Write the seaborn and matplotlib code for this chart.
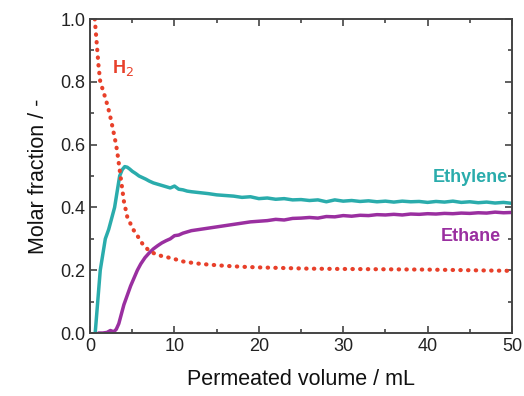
import matplotlib
matplotlib.use("Agg")
import matplotlib.pyplot as plt
import seaborn as sns
from matplotlib.ticker import MultipleLocator

# Data
ethylene_x = [0.6, 0.9, 1.2, 1.5, 1.8, 2.2, 2.6, 2.9, 3.2, 3.5, 3.8, 4.1, 4.4, 4.7, 5.0,
              5.4, 5.8, 6.2, 6.6, 7.0, 7.5, 8.0, 8.5, 9.0, 9.5, 10.0, 10.5, 11.0, 11.5, 12.0,
              13, 14, 15, 16, 17, 18, 19, 20, 21, 22, 23, 24, 25, 26, 27, 28, 29, 30,
              31, 32, 33, 34, 35, 36, 37, 38, 39, 40, 41, 42, 43, 44, 45, 46, 47, 48, 49, 50]
ethylene_y = [0.0, 0.10, 0.20, 0.25, 0.30, 0.33, 0.37, 0.40, 0.45, 0.50, 0.52, 0.53, 0.528, 0.522, 0.515,
              0.508, 0.50, 0.495, 0.49, 0.484, 0.478, 0.474, 0.47, 0.466, 0.462, 0.468, 0.458, 0.456, 0.452, 0.45,
              0.447, 0.444, 0.44, 0.438, 0.436, 0.432, 0.434, 0.428, 0.43, 0.426, 0.428, 0.424, 0.425, 0.422, 0.424, 0.418, 0.424, 0.42,
              0.422, 0.419, 0.421, 0.418, 0.42, 0.417, 0.42, 0.418, 0.419, 0.416, 0.419, 0.417, 0.42, 0.416, 0.418, 0.415, 0.417, 0.414, 0.416, 0.413]

ethane_x = [1.0, 1.5, 2.0, 2.4, 2.8, 3.1, 3.4, 3.7, 4.0, 4.4, 4.8, 5.2, 5.6, 6.0, 6.5, 7.0, 7.5,
            8.0, 8.5, 9.0, 9.5, 10.0, 10.5, 11.0, 11.5, 12.0,
            13, 14, 15, 16, 17, 18, 19, 20, 21, 22, 23, 24, 25, 26, 27, 28, 29, 30,
            31, 32, 33, 34, 35, 36, 37, 38, 39, 40, 41, 42, 43, 44, 45, 46, 47, 48, 49, 50]
ethane_y = [0.0, 0.0, 0.002, 0.008, 0.004, 0.012, 0.03, 0.06, 0.09, 0.12, 0.15, 0.175, 0.20, 0.22, 0.24, 0.255, 0.268,
            0.278, 0.287, 0.294, 0.30, 0.31, 0.312, 0.318, 0.322, 0.326,
            0.33, 0.334, 0.338, 0.342, 0.346, 0.35, 0.354, 0.356, 0.358, 0.362, 0.36, 0.365, 0.366, 0.368, 0.366, 0.371, 0.37, 0.374,
            0.372, 0.375, 0.374, 0.377, 0.376, 0.378, 0.376, 0.379, 0.378, 0.38, 0.379, 0.381, 0.38, 0.382, 0.381, 0.383, 0.382, 0.385, 0.383, 0.384]

h2_x = [0.55, 0.7, 0.85, 1.0, 1.2, 1.5, 1.9, 2.3, 2.7, 3.0, 3.2, 3.45, 3.7, 4.0, 4.4, 5.1, 5.6,
        6.3, 7.0, 7.7, 8.5, 9.7, 11, 12.5, 14, 16, 18, 20, 23, 26, 30, 35, 40, 45, 50]
h2_y = [1.0, 0.95, 0.9, 0.85, 0.8, 0.775, 0.74, 0.70, 0.65, 0.61, 0.58, 0.53, 0.48, 0.42, 0.37, 0.33, 0.31,
        0.28, 0.262, 0.252, 0.245, 0.238, 0.228, 0.222, 0.218, 0.214, 0.211, 0.209, 0.207, 0.205, 0.204, 0.203, 0.202, 0.2, 0.198]

teal = "#2aacac"
purple = "#9a2fa0"
red = "#e8402a"

sns.set_style("ticks")
plt.rcParams['font.family'] = ['Liberation Sans', 'DejaVu Sans']

fig = plt.figure(figsize=(5.24, 3.96), dpi=100)
ax = fig.add_axes([0.172, 0.159, 0.805, 0.793])

sns.lineplot(x=ethylene_x, y=ethylene_y, ax=ax, color=teal, linewidth=2.5,
             estimator=None, sort=False)
sns.lineplot(x=ethane_x, y=ethane_y, ax=ax, color=purple, linewidth=2.5,
             estimator=None, sort=False)
sns.lineplot(x=h2_x, y=h2_y, ax=ax, color=red, linewidth=3.0,
             estimator=None, sort=False, linestyle=(0, (0.1, 1.75)),
             dash_capstyle='round')

ax.set_xlim(0, 50)
ax.set_ylim(0, 1.0)
ax.xaxis.set_major_locator(MultipleLocator(10))
ax.xaxis.set_minor_locator(MultipleLocator(5))
ax.yaxis.set_major_locator(MultipleLocator(0.2))
ax.yaxis.set_minor_locator(MultipleLocator(0.1))
ax.yaxis.set_major_formatter(matplotlib.ticker.FormatStrFormatter('%.1f'))
ax.tick_params(which='both', direction='in', top=True, right=True,
               colors='#444444', labelcolor='#222222', width=1.2)
ax.tick_params(which='major', length=5, labelsize=13)
ax.tick_params(which='minor', length=3)
for s in ax.spines.values():
    s.set_color('#444444')
    s.set_linewidth(1.4)

ax.set_xlabel('Permeated volume / mL', fontsize=15.5, color='#111111', labelpad=10)
ax.set_ylabel('Molar fraction / -', fontsize=15.5, color='#111111', labelpad=8)

ax.text(2.6, 0.844, 'H$_2$', color=red, fontsize=13, fontweight='bold',
        ha='left', va='center')
ax.text(49.5, 0.494, 'Ethylene', color=teal, fontsize=13, fontweight='bold',
        ha='right', va='center')
ax.text(48.7, 0.309, 'Ethane', color=purple, fontsize=13, fontweight='bold',
        ha='right', va='center')

fig.savefig('out.png', dpi=100)
